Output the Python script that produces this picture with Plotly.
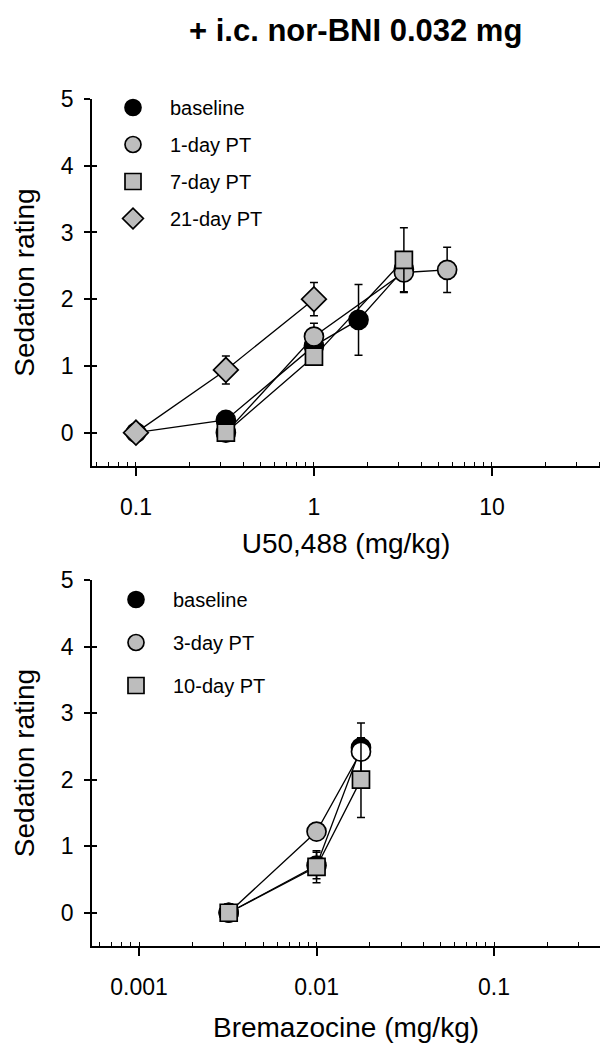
import plotly.graph_objects as go

# ---- data: top panel (U50,488) ----
u_base_x = [0.1, 0.32, 1, 1.78, 3.2]
u_base_y = [0, 0.19, 1.3, 1.69, 2.45]
u_base_e = [0, 0, 0, 0.53, 0]

u_d1_x = [0.32, 1, 3.2, 5.6]
u_d1_y = [0, 1.44, 2.4, 2.44]
u_d1_e = [0, 0.2, 0.3, 0.34]

u_d7_x = [0.32, 1, 3.2]
u_d7_y = [0, 1.14, 2.59]
u_d7_e = [0, 0.1, 0.48]

u_d21_x = [0.1, 0.32, 1]
u_d21_y = [0, 0.94, 2.0]
u_d21_e = [0, 0.21, 0.25]

# ---- data: bottom panel (Bremazocine) ----
b_base_x = [0.0032, 0.01, 0.0178]
b_base_y = [0, 0.71, 2.48]
b_base_e = [0, 0.2, 0.15]

b_d3_x = [0.0032, 0.01, 0.0178]
b_d3_y = [0, 1.22, 2.42]
b_d3_e = [0, 0.06, 0.43]

b_d10_x = [0.0032, 0.01, 0.0178]
b_d10_y = [0, 0.69, 2.0]
b_d10_e = [0, 0.24, 0.57]

y_ticks = [0, 1, 2, 3, 4, 5]
u_ticks = [0.1, 1, 10]
u_ticklabels = ["0.1", "1", "10"]
b_ticks = [0.001, 0.01, 0.1]
b_ticklabels = ["0.001", "0.01", "0.1"]

W, H = 613, 1050
OFF = 8  # page body margin offset
L = 92 - OFF
R = W - (600 - OFF)
PW = W - L - R
GRAY = "#bdbdbd"
FONT = "Liberation Sans, Arial, sans-serif"

STYLE = {
    "circle_black": dict(symbol="circle", size=19, color="black"),
    "circle_gray": dict(symbol="circle", size=19, color=GRAY),
    "square": dict(symbol="square", size=17, color=GRAY),
    "diamond": dict(symbol="diamond", size=19, color=GRAY),
}

fig = go.Figure()


def add(x, y, e, name, style, xa, ya, legend, group, colors=None):
    st = dict(STYLE[style])
    if colors is not None:
        st["color"] = colors
    fig.add_trace(go.Scatter(
        x=x, y=y, name=name, mode="lines+markers", showlegend=False,
        xaxis=xa, yaxis=ya,
        line=dict(color="black", width=1.3),
        marker=dict(st, line=dict(color="black", width=1.7)),
        error_y=dict(type="data", array=e, visible=True, color="black",
                     thickness=1.5, width=4),
    ))
    # legend entry (marker only)
    fig.add_trace(go.Scatter(
        x=[None], y=[None], name=name, mode="markers", xaxis=xa, yaxis=ya,
        legend=legend, legendgroup=group,
        marker=dict(STYLE[style], line=dict(color="black", width=1.7)),
    ))


add(u_base_x, u_base_y, u_base_e, "baseline", "circle_black", "x", "y", "legend", "a")
add(u_d1_x, u_d1_y, u_d1_e, "1-day PT", "circle_gray", "x", "y", "legend", "b")
add(u_d7_x, u_d7_y, u_d7_e, "7-day PT", "square", "x", "y", "legend", "c")
add(u_d21_x, u_d21_y, u_d21_e, "21-day PT", "diamond", "x", "y", "legend", "d")

add(b_base_x, b_base_y, b_base_e, "baseline", "circle_black", "x2", "y2", "legend2", "e")
add(b_d3_x, b_d3_y, b_d3_e, "3-day PT", "circle_gray", "x2", "y2", "legend2", "f",
    colors=[GRAY, GRAY, "white"])
add(b_d10_x, b_d10_y, b_d10_e, "10-day PT", "square", "x2", "y2", "legend2", "g")


def ydom(top_px, bot_px):
    return [1 - (bot_px - OFF) / H, 1 - (top_px - OFF) / H]


def px_x(px):
    return (px - OFF - L) / PW


def px_y(py):
    return 1 - (py - OFF) / H


axis_font = dict(family=FONT, size=23, color="black")
title_font = dict(family=FONT, size=28, color="black")

common_x = dict(type="log", showline=True, linecolor="black", linewidth=1.5,
                ticks="outside", ticklen=8, tickwidth=1.5, tickcolor="black",
                showgrid=False, zeroline=False, tickfont=axis_font, automargin=False,
                ticklabelstandoff=12,
                minor=dict(ticks="inside", ticklen=4, tickwidth=1, tickcolor="black",
                           dtick="D1", showgrid=False))
common_y = dict(range=[-0.5, 5], showline=True, linecolor="black", linewidth=1.5,
                ticks="outside", ticklen=6, tickwidth=1.5, tickcolor="black",
                showgrid=False, zeroline=False, tickfont=axis_font, automargin=False,
                ticklabelstandoff=6,
                tickvals=y_ticks,
                title=dict(text="Sedation rating", font=title_font, standoff=18))

leg_common = dict(xanchor="left", yanchor="top", font=dict(family=FONT, size=20, color="black"),
                  bgcolor="rgba(0,0,0,0)", traceorder="grouped", itemsizing="trace",
                  itemwidth=64)

fig.update_layout(
    width=W, height=H,
    margin=dict(l=L, r=R, t=0, b=0),
    plot_bgcolor="white", paper_bgcolor="white",
    font=dict(family=FONT, color="black"),
    showlegend=True,
    xaxis=dict(common_x, range=[-1.247, 1.607], anchor="y", domain=[0, 1],
               tickvals=u_ticks, ticktext=u_ticklabels,
               title=dict(text="U50,488 (mg/kg)", font=title_font, standoff=14)),
    yaxis=dict(common_y, anchor="x", domain=ydom(99, 466)),
    xaxis2=dict(common_x, range=[-3.265, -0.403], anchor="y2", domain=[0, 1],
                tickvals=b_ticks, ticktext=b_ticklabels,
                title=dict(text="Bremazocine (mg/kg)", font=title_font, standoff=18)),
    yaxis2=dict(common_y, anchor="x2", domain=ydom(580, 946)),
    yaxis3=dict(range=[-0.5, 5], overlaying="y", anchor="x", tickvals=y_ticks,
                ticks="inside", ticklen=5, tickwidth=1.5, tickcolor="black",
                showticklabels=False, showgrid=False, zeroline=False, showline=False),
    yaxis4=dict(range=[-0.5, 5], overlaying="y2", anchor="x2", tickvals=y_ticks,
                ticks="inside", ticklen=5, tickwidth=1.5, tickcolor="black",
                showticklabels=False, showgrid=False, zeroline=False, showline=False),
    legend=dict(leg_common, x=px_x(96), y=px_y(88), tracegroupgap=8),
    legend2=dict(leg_common, x=px_x(99), y=px_y(580), tracegroupgap=14),
    annotations=[dict(text="<b>+ i.c. nor-BNI 0.032 mg</b>", x=px_x(355), y=px_y(31),
                      xref="paper", yref="paper", showarrow=False,
                      xanchor="center", yanchor="middle",
                      font=dict(family=FONT, size=31, color="black"))],
)

# invisible traces so the overlay tick axes render
fig.add_trace(go.Scatter(x=[1], y=[0], xaxis="x", yaxis="y3", mode="markers",
                         marker=dict(opacity=0), showlegend=False, hoverinfo="skip"))
fig.add_trace(go.Scatter(x=[0.01], y=[0], xaxis="x2", yaxis="y4", mode="markers",
                         marker=dict(opacity=0), showlegend=False, hoverinfo="skip"))

fig.write_html("out.html")
